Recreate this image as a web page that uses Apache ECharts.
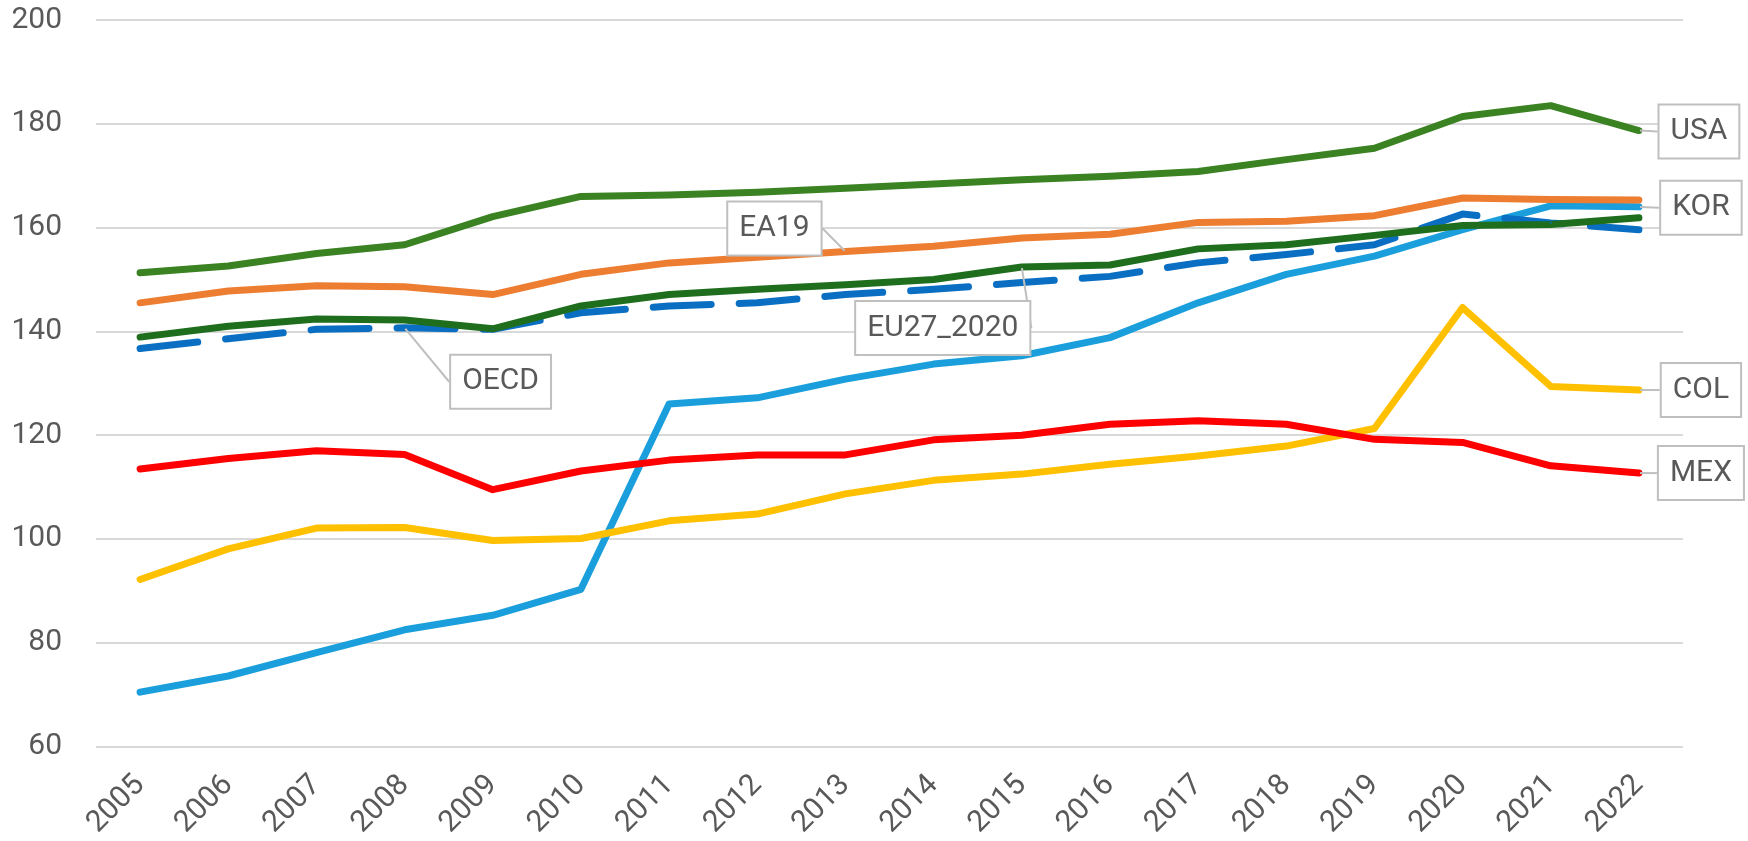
<!DOCTYPE html>
<html>
<head>
<meta charset="utf-8">
<script src="https://cdn.jsdelivr.net/npm/echarts@6/dist/echarts.min.js"></script>
<style>
  html, body { margin: 0; padding: 0; background: #fff; }
  #chart { width: 1748px; height: 841px; }
</style>
</head>
<body>
<div id="chart"></div>
<script>
const years = ["2005", "2006", "2007", "2008", "2009", "2010", "2011", "2012", "2013",
  "2014", "2015", "2016", "2017", "2018", "2019", "2020", "2021", "2022"];

const usa = [151.3, 152.6, 155.0, 156.7, 162.1, 166.0, 166.3, 166.8, 167.6, 168.4, 169.2, 169.9, 170.8, 173.1, 175.3, 181.4, 183.5, 178.7];
const ea19 = [145.5, 147.8, 148.8, 148.6, 147.1, 151.0, 153.2, 154.3, 155.4, 156.4, 158.0, 158.7, 161.0, 161.2, 162.3, 165.7, 165.4, 165.3];
const eu27 = [138.9, 141.0, 142.4, 142.2, 140.5, 144.9, 147.1, 148.1, 149.0, 150.0, 152.4, 152.8, 155.9, 156.7, 158.5, 160.4, 160.6, 161.9];
const oecd = [136.7, 138.6, 140.4, 140.7, 140.4, 143.6, 144.9, 145.5, 147.1, 148.1, 149.4, 150.6, 153.2, 154.8, 156.7, 162.6, 160.9, 159.6];
const kor = [70.5, 73.6, 78.1, 82.5, 85.3, 90.3, 126.0, 127.2, 130.8, 133.7, 135.3, 138.8, 145.5, 151.0, 154.5, 159.6, 164.2, 164.0];
const col = [92.2, 98.1, 102.1, 102.2, 99.7, 100.1, 103.5, 104.8, 108.7, 111.3, 112.5, 114.4, 116.0, 117.9, 121.3, 144.6, 129.4, 128.7];
const mex = [113.5, 115.5, 117.0, 116.3, 109.5, 113.1, 115.2, 116.2, 116.2, 119.1, 120.0, 122.1, 122.8, 122.1, 119.2, 118.6, 114.1, 112.7];

const yTicks = [60, 80, 100, 120, 140, 160, 180, 200];

const FONT = "Roboto, 'Noto Sans', sans-serif";
const textColor = "#595959";

// one callout box per series, put on a single year
function withCallout(values, name, idx) {
  return values.map((v, i) => i !== idx ? v : {
    value: v,
    label: {
      show: true,
      position: "inside",
      formatter: name,
      color: textColor,
      fontFamily: FONT,
      fontSize: 30,
      lineHeight: 36,
      backgroundColor: "#fff",
      borderColor: "#bfbfbf",
      borderWidth: 2,
      padding: [8, 11, 8, 11],
    },
  });
}

function lineSeries(name, values, color, idx, dx, dy, extra) {
  return Object.assign({
    name: name,
    type: "line",
    data: withCallout(values, name, idx),
    symbol: "circle",
    symbolSize: 2,
    showSymbol: true,
    itemStyle: { color: color },
    lineStyle: { color: color, width: 7, cap: "round", join: "round" },
    labelLayout: { dx: dx, dy: dy },
    labelLine: {
      show: true,
      lineStyle: { color: "#bfbfbf", width: 2 },
    },
  }, extra || {});
}

const last = years.length - 1;

const option = {
  animation: false,
  backgroundColor: "#fff",
  grid: {
    top: 20,
    left: 96,
    right: 65,
    bottom: 93,
  },
  xAxis: {
    type: "category",
    data: years,
    boundaryGap: true,
    axisLine: { show: false },
    axisTick: { show: false },
    axisLabel: {
      rotate: 45,
      margin: 34,
      color: textColor,
      fontFamily: FONT,
      fontSize: 30,
    },
  },
  yAxis: {
    type: "value",
    min: yTicks[0],
    max: yTicks[yTicks.length - 1],
    interval: 20,
    axisLine: { show: false },
    axisTick: { show: false },
    axisLabel: {
      margin: 34,
      color: textColor,
      fontFamily: FONT,
      fontSize: 30,
    },
    splitLine: {
      lineStyle: { color: "#d9d9d9", width: 2 },
    },
  },
  series: [
    lineSeries("KOR", kor, "#1a9fdc", last, 62, 1),
    lineSeries("COL", col, "#ffc000", last, 62, 0),
    lineSeries("MEX", mex, "#ff0000", last, 62, 0),
    lineSeries("OECD", oecd, "#0a6fc2", 3, 96, 54, {
      lineStyle: { color: "#0a6fc2", width: 7, type: [58, 28], cap: "round", join: "round" },
    }),
    lineSeries("EU27_2020", eu27, "#1e6e1e", 10, -79, 61),
    lineSeries("EA19", ea19, "#ed7d31", 8, -71, -23),
    lineSeries("USA", usa, "#3a8222", last, 60, 1),
  ],
};

const chart = echarts.init(document.getElementById("chart"));
chart.setOption(option);
</script>
</body>
</html>
